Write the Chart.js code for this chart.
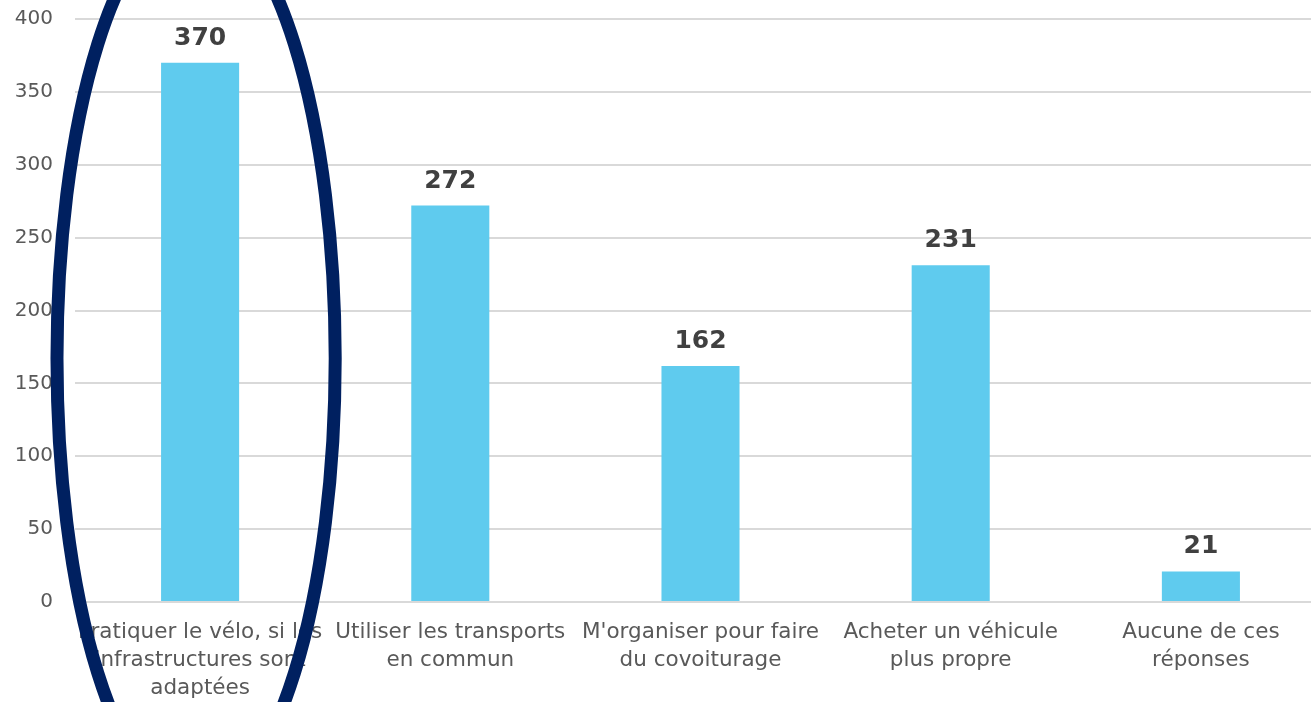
<!DOCTYPE html>
<html>
<head>
<meta charset="utf-8">
<script src="https://cdn.jsdelivr.net/npm/chart.js@4"></script>
<style>
  html, body { margin: 0; padding: 0; background: #fff; overflow: hidden; }
  #wrap { width: 1311px; height: 702px; overflow: hidden; position: relative; }
  #box { position: absolute; left: 0; top: 0; width: 1330px; height: 702px; }
</style>
</head>
<body>
<div id="wrap"><div id="box"><canvas id="c"></canvas></div></div>
<script>
const categories = [
  ["Pratiquer le vélo, si les", "infrastructures sont", "adaptées"],
  ["Utiliser les transports", "en commun"],
  ["M'organiser pour faire", "du covoiturage"],
  ["Acheter un véhicule", "plus propre"],
  ["Aucune de ces", "réponses"]
];
const values = [370, 272, 162, 231, 21];
const yTicks = { min: 0, max: 400, step: 50 };
// highlight ellipse around first category, in data units
const highlight = { index: 0, centerValue: 167, radiusValue: 305, widthFrac: 0.556, offsetFrac: -0.016 };

const FONT = "'DejaVu Sans', Verdana, sans-serif";

const labelPlugin = {
  id: 'valueLabels',
  afterDatasetsDraw(chart) {
    const ctx = chart.ctx;
    const meta = chart.getDatasetMeta(0);
    ctx.save();
    ctx.font = "bold 25px " + FONT;
    ctx.fillStyle = '#404040';
    ctx.textAlign = 'center';
    ctx.textBaseline = 'alphabetic';
    meta.data.forEach((bar, i) => {
      ctx.fillText(String(values[i]), bar.x, bar.y - 18);
    });
    ctx.restore();
  }
};

const ellipsePlugin = {
  id: 'ellipse',
  afterDraw(chart) {
    const x = chart.scales.x, y = chart.scales.y;
    const cw = x.getPixelForValue(1) - x.getPixelForValue(0);
    const cx = x.getPixelForValue(highlight.index) + highlight.offsetFrac * cw;
    const cy = y.getPixelForValue(highlight.centerValue);
    const rx = highlight.widthFrac * cw;
    const ry = y.getPixelForValue(0) - y.getPixelForValue(highlight.radiusValue);
    const ctx = chart.ctx;
    ctx.save();
    ctx.beginPath();
    ctx.ellipse(cx, cy, rx, ry, 0, 0, Math.PI * 2);
    ctx.lineWidth = 13;
    ctx.strokeStyle = '#002060';
    ctx.stroke();
    ctx.restore();
  }
};

new Chart(document.getElementById('c'), {
  type: 'bar',
  data: {
    labels: categories,
    datasets: [{
      data: values,
      backgroundColor: '#5fcbee',
      borderWidth: 0,
      barPercentage: 0.312,
      categoryPercentage: 1.0
    }]
  },
  options: {
    responsive: true,
    maintainAspectRatio: false,
    animation: false,
    layout: { padding: { top: 19, right: 4, bottom: 0, left: 0 } },
    plugins: { legend: { display: false }, tooltip: { enabled: false } },
    scales: {
      x: {
        grid: { display: false, drawTicks: false },
        border: { display: false },
        ticks: {
          color: '#595959',
          font: { family: FONT, size: 21.5, lineHeight: '28px' },
          maxRotation: 0, minRotation: 0, autoSkip: false,
          padding: 16
        },
        afterFit(scale) { scale.height = 100; }
      },
      y: {
        min: yTicks.min, max: yTicks.max,
        grid: { color: '#d9d9d9', lineWidth: 2, drawTicks: false },
        border: { display: false },
        ticks: {
          stepSize: yTicks.step,
          color: '#595959',
          font: { family: FONT, size: 20 },
          padding: 22
        },
        afterFit(scale) { scale.width = 75; scale.paddingTop = 0; scale.paddingBottom = 0; }
      }
    }
  },
  plugins: [labelPlugin, ellipsePlugin]
});
</script>
</body>
</html>
